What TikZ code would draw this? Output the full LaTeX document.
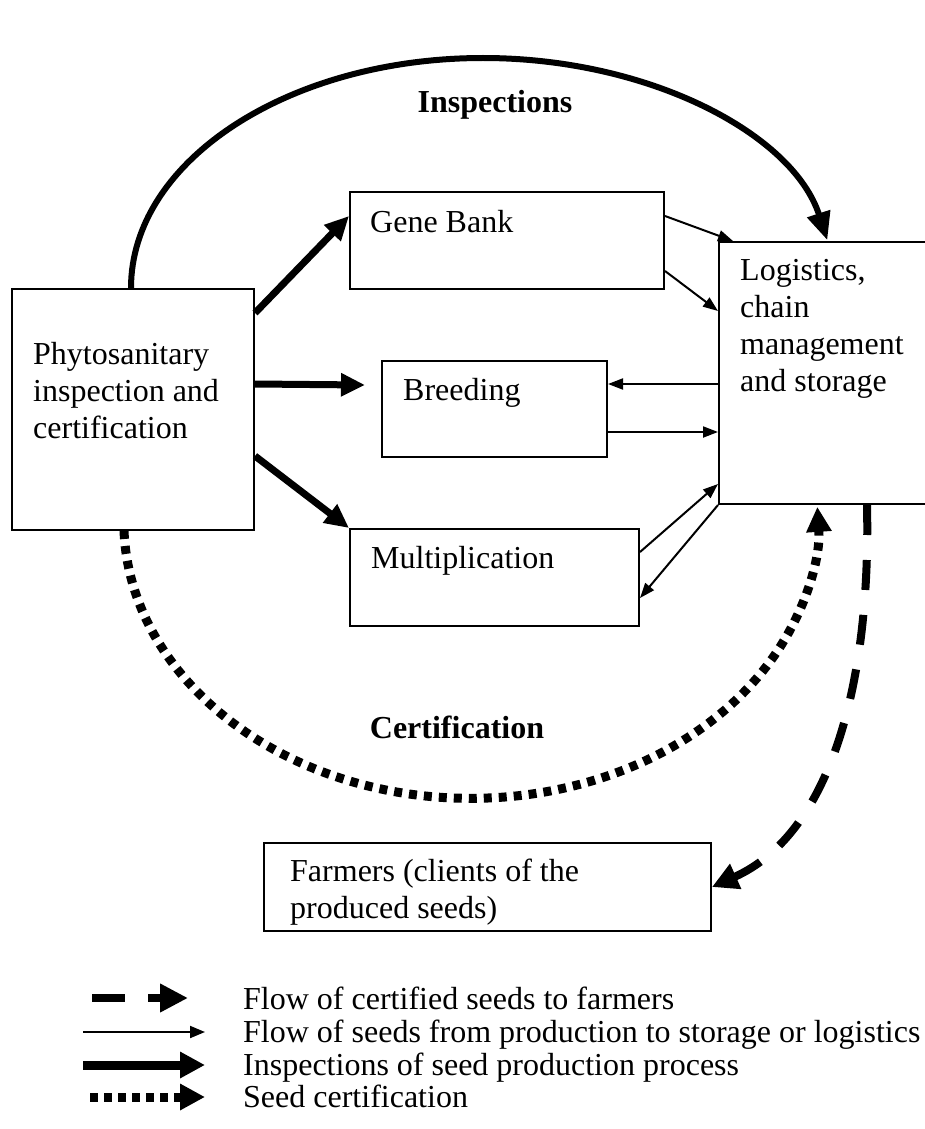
\documentclass[tikz,border=0pt]{standalone}
\usepackage{fontspec}
\setmainfont{Liberation Serif}
\usetikzlibrary{arrows.meta}
\begin{document}
\begin{tikzpicture}[x=1pt,y=-1pt,
  box/.style={draw, line width=2pt, rectangle, inner sep=0pt, anchor=north west},
  txt/.style={inner sep=0pt, anchor=base west, align=left, font=\fontsize{32}{37}\selectfont},
  lbl/.style={inner sep=0pt, anchor=base, font=\fontsize{32}{37}\selectfont\bfseries},
  thinarr/.style={line width=2pt, -{Triangle[length=15pt,width=11pt]}},
  thickarr/.style={line width=7pt, -{Triangle[length=24pt,width=22pt]}},
  inspect/.style={line width=6pt, -{Triangle[length=28pt,width=23pt]}},
  certif/.style={line width=9pt, dash pattern=on 8pt off 7pt, -{Triangle[length=25pt,width=24pt]}},
  flow/.style={line width=8pt, dash pattern=on 30pt off 25pt, -{Triangle[length=26pt,width=26pt]}}
]
\useasboundingbox (0,0) rectangle (924,1129);

% boxes
\node[box, minimum width=242pt, minimum height=241pt] (phyto) at (11,288) {};
\node[box, minimum width=314pt, minimum height=97pt] (gene) at (349,191) {};
\node[box, minimum width=225pt, minimum height=96pt] (breed) at (381,360) {};
\node[box, minimum width=289pt, minimum height=97pt] (mult) at (349,528) {};
\node[box, minimum width=230pt, minimum height=262pt] (logist) at (718,241) {};
\node[box, minimum width=447pt, minimum height=88pt] (farm) at (263,842) {};

% texts (multi-line nodes: base = last line)
\node[txt] (tphyto) at (33,438) {Phytosanitary\\inspection and\\certification};
\node[txt] (tgene) at (370,232) {Gene Bank};
\node[txt] (tbreed) at (403,400) {Breeding};
\node[txt] (tmult) at (371,568) {Multiplication};
\node[txt] (tlog) at (740,391) {Logistics,\\chain\\management\\and storage};
\node[txt] (tfarm) at (290,918) {Farmers (clients of the\\produced seeds)};
\node[lbl] (linsp) at (495,113) {Inspections};
\node[lbl] (lcert) at (457,738) {Certification};

% thick inspection arrows
\draw[thickarr] ([yshift=-25pt]phyto.north east) -- ([yshift=-25pt]gene.north west);
\draw[thickarr] ([yshift=-96pt]phyto.north east) -- ([xshift=-16pt,yshift=24pt]breed.west);
\draw[thickarr] ([yshift=-168pt]phyto.north east) -- (mult.north west);

% thin flows
\draw[thinarr] ([yshift=-25pt]gene.north east) -- ([xshift=15pt]logist.north west);
\draw[thinarr] ([yshift=-80pt]gene.north east) -- ([yshift=-70pt]logist.north west);
\draw[thinarr] ([yshift=-143pt]logist.north west) -- ([yshift=-24pt]breed.north east);
\draw[thinarr] ([yshift=-72pt]breed.north east) -- ([yshift=-191pt]logist.north west);
\draw[thinarr] ([yshift=-24pt]mult.north east) -- ([yshift=21pt]logist.south west);
\draw[thinarr] (logist.south west) -- ([yshift=-70pt]mult.north east);

% inspections arc
\draw[inspect] ([xshift=120pt]phyto.north west) arc[start angle=180, end angle=348, x radius=352, y radius=230];

% certification arc
\draw[certif] ([xshift=113pt]phyto.south west) arc[start angle=178, end angle=-3, x radius=347, y radius=277];

% flow to farmers
\draw[flow] ([xshift=149pt]logist.south west) .. controls (871,690) and (828,835) .. (farm.east);

% legend
\coordinate (l1a) at (92,998);  \coordinate (l1b) at (188,998);
\coordinate (l2a) at (83,1032); \coordinate (l2b) at (205,1032);
\coordinate (l3a) at (83,1065); \coordinate (l3b) at (205,1065);
\coordinate (l4a) at (90,1097); \coordinate (l4b) at (205,1097);
\draw[line width=8pt, dash pattern=on 33pt off 23pt, -{Triangle[length=28pt,width=27pt]}] (l1a) -- (l1b);
\draw[line width=2pt, -{Triangle[length=15pt,width=12pt]}] (l2a) -- (l2b);
\draw[line width=9pt, -{Triangle[length=25pt,width=25pt]}] (l3a) -- (l3b);
\draw[line width=9pt, dash pattern=on 8pt off 6pt, -{Triangle[length=25pt,width=25pt]}] (l4a) -- (l4b);
\node[txt] (t1) at (243,1009) {Flow of certified seeds to farmers};
\node[txt] (t2) at (243,1042) {Flow of seeds from production to storage or logistics};
\node[txt] (t3) at (243,1075) {Inspections of seed production process};
\node[txt] (t4) at (243,1107) {Seed certification};
\end{tikzpicture}
\end{document}
